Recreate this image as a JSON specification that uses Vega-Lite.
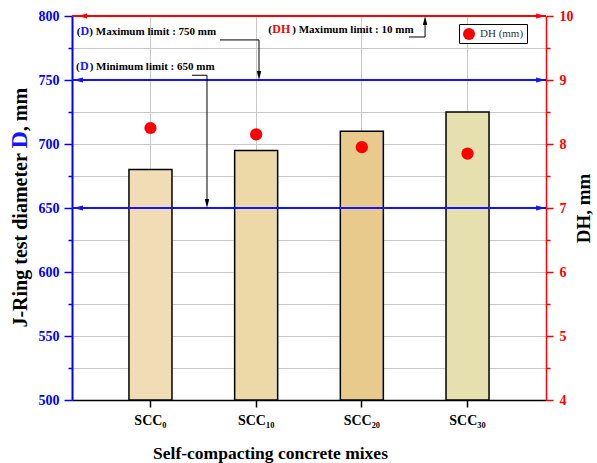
{
  "$schema": "https://vega.github.io/schema/vega-lite/v6.json",
  "width": 474,
  "height": 384,
  "autosize": {"type": "none"},
  "padding": {"left": 72, "top": 16, "right": 51, "bottom": 63},
  "background": "white",
  "config": {
    "font": "Liberation Serif",
    "view": {"stroke": null},
    "axis": {"labelFont": "Liberation Serif", "titleFont": "Liberation Serif"},
    "legend": {"labelFont": "Liberation Serif"}
  },
  "datasets": {
    "mixes": [
      {"mix": "SCC₀", "D": 680, "DH": 8.25},
      {"mix": "SCC₁₀", "D": 695, "DH": 8.15},
      {"mix": "SCC₂₀", "D": 710, "DH": 7.95},
      {"mix": "SCC₃₀", "D": 725, "DH": 7.85}
    ],
    "limitsD": [{"limit": 750}, {"limit": 650}],
    "limitDH": [{"limit": 800}],
    "leaders": [
      {"x": 1.653, "y": 781.3, "x2": 2.022, "y2": 781.3},
      {"x": 2.022, "y": 781.3, "x2": 2.022, "y2": 756},
      {"x": 1.388, "y": 753.7, "x2": 1.53, "y2": 753.7},
      {"x": 1.53, "y": 753.7, "x2": 1.53, "y2": 656},
      {"x": 3.441, "y": 783.6, "x2": 3.593, "y2": 783.6},
      {"x": 3.593, "y": 783.6, "x2": 3.593, "y2": 795}
    ],
    "arrowsDown": [{"x": 2.022, "y": 753.5}, {"x": 1.53, "y": 653.5}],
    "arrowsUp": [{"x": 3.593, "y": 796.5}],
    "labelsBlack": [
      {"x": 0.297, "y": 785.2, "t": "("},
      {"x": 0.417, "y": 785.2, "t": ") Maximum limit : 750 mm"},
      {"x": 0.291, "y": 757.8, "t": "("},
      {"x": 0.42, "y": 757.8, "t": ") Minimum limit : 650 mm"},
      {"x": 2.11, "y": 786.7, "t": "("},
      {"x": 2.337, "y": 786.7, "t": ") Maximum limit : 10 mm"}
    ],
    "labelsBlue": [
      {"x": 0.333, "y": 785.2, "t": "D"},
      {"x": 0.329, "y": 757.8, "t": "D"}
    ],
    "labelsRed": [
      {"x": 2.148, "y": 786.7, "t": "DH"}
    ],
    "titleBlack": [
      {"x": -0.173, "y": 556.6, "t": "J-Ring test diameter "},
      {"x": -0.173, "y": 710.0, "t": " , mm"}
    ],
    "titleBlue": [
      {"x": -0.173, "y": 696.5, "t": "D"}
    ]
  },
  "layer": [
    {
      "data": {"name": "mixes"},
      "mark": {"type": "point", "opacity": 0},
      "encoding": {
        "y": {
          "field": "D", "type": "quantitative",
          "scale": {"domain": [500, 800], "nice": false, "zero": false},
          "axis": {"orient": "left", "values": [525, 575, 625, 675, 725, 775], "labels": false, "title": null, "domain": false, "tickSize": 4, "tickColor": "#0000ff", "tickWidth": 1.5, "grid": true, "gridColor": "#c8c8c8", "gridWidth": 1}
        }
      }
    },
    {
      "data": {"name": "mixes"},
      "mark": {"type": "point", "opacity": 0},
      "encoding": {
        "y": {
          "field": "DH", "type": "quantitative",
          "scale": {"domain": [4, 10], "nice": false, "zero": false},
          "axis": {"orient": "right", "values": [4.5, 5.5, 6.5, 7.5, 8.5, 9.5], "labels": false, "title": null, "domain": false, "tickSize": 4, "tickColor": "#ff0000", "tickWidth": 1.5, "grid": false}
        }
      }
    },
    {
      "data": {"name": "mixes"},
      "mark": {"type": "bar", "stroke": "black", "strokeWidth": 1.5},
      "encoding": {
        "x": {
          "field": "mix", "type": "nominal", "sort": null,
          "scale": {"type": "band", "domain": ["SCC₀", "SCC₁₀", "SCC₂₀", "SCC₃₀"], "paddingInner": 0.593, "paddingOuter": 0.539},
          "axis": {"title": "Self-compacting concrete mixes", "titleX": 198, "titleAnchor": "middle", "bandPosition": 0.5, "labelAngle": 0, "grid": true, "gridColor": "#c8c8c8", "domainColor": "black", "domainWidth": 1.5, "tickColor": "black", "tickWidth": 1.5, "tickSize": 7, "labelFontSize": 14, "labelFontWeight": "bold", "labelColor": "black", "labelPadding": 6, "titleFontSize": 17.5, "titleFontWeight": "bold", "titleColor": "black", "titlePadding": 17}
        },
        "y": {
          "field": "D", "type": "quantitative",
          "scale": {"domain": [500, 800], "nice": false, "zero": false},
          "axis": {"orient": "left", "values": [500, 550, 600, 650, 700, 750, 800], "title": null, "grid": true, "gridColor": "#c8c8c8", "domainColor": "#0000ff", "domainWidth": 2, "tickColor": "#0000ff", "tickWidth": 1.5, "tickSize": 8, "labelColor": "#0000ff", "labelFontSize": 14, "labelFontWeight": "bold", "labelPadding": 5}
        },
        "y2": {"datum": 500},
        "color": {
          "field": "mix", "type": "nominal",
          "scale": {"domain": ["SCC₀", "SCC₁₀", "SCC₂₀", "SCC₃₀"], "range": ["#F0DCB5", "#EDD8A8", "#E8CB8C", "#E6E0AE"]},
          "legend": null
        }
      }
    },
    {
      "layer": [
        {
          "data": {"name": "limitsD"},
          "mark": {"type": "rule", "color": "#1414ff", "strokeWidth": 2},
          "encoding": {
            "y": {"field": "limit", "type": "quantitative", "scale": {"domain": [500, 800], "nice": false, "zero": false}, "axis": null}
          }
        },
        {
          "data": {"name": "limitDH"},
          "mark": {"type": "rule", "color": "#ff0000", "strokeWidth": 2},
          "encoding": {
            "y": {"field": "limit", "type": "quantitative", "axis": null}
          }
        },
        {
          "data": {"name": "limitsD"},
          "mark": {"type": "point", "shape": "M-1,0L1,-0.5L1,0.5Z", "size": 100, "filled": true, "opacity": 1, "color": "#1414ff"},
          "encoding": {
            "x": {"datum": 0.31, "type": "quantitative", "scale": {"domain": [0.253, 4.737], "nice": false, "zero": false}, "axis": null},
            "y": {"field": "limit", "type": "quantitative", "axis": null}
          }
        },
        {
          "data": {"name": "limitsD"},
          "mark": {"type": "point", "shape": "M1,0L-1,-0.5L-1,0.5Z", "size": 100, "filled": true, "opacity": 1, "color": "#1414ff"},
          "encoding": {
            "x": {"datum": 4.69, "type": "quantitative", "axis": null},
            "y": {"field": "limit", "type": "quantitative", "axis": null}
          }
        },
        {
          "data": {"name": "limitDH"},
          "mark": {"type": "point", "shape": "M-1,0L1,-0.5L1,0.5Z", "size": 100, "filled": true, "opacity": 1, "color": "#ff0000"},
          "encoding": {
            "x": {"datum": 0.348, "type": "quantitative", "axis": null},
            "y": {"field": "limit", "type": "quantitative", "axis": null}
          }
        },
        {
          "data": {"name": "limitDH"},
          "mark": {"type": "point", "shape": "M1,0L-1,-0.5L-1,0.5Z", "size": 100, "filled": true, "opacity": 1, "color": "#ff0000"},
          "encoding": {
            "x": {"datum": 4.69, "type": "quantitative", "axis": null},
            "y": {"field": "limit", "type": "quantitative", "axis": null}
          }
        },
        {
          "data": {"name": "leaders"},
          "mark": {"type": "rule", "color": "black", "strokeWidth": 1},
          "encoding": {
            "x": {"field": "x", "type": "quantitative", "axis": null},
            "x2": {"field": "x2"},
            "y": {"field": "y", "type": "quantitative", "axis": null},
            "y2": {"field": "y2"}
          }
        },
        {
          "data": {"name": "arrowsDown"},
          "mark": {"type": "point", "shape": "M0,1L-0.5,-1L0.5,-1Z", "size": 81, "filled": true, "opacity": 1, "color": "black"},
          "encoding": {
            "x": {"field": "x", "type": "quantitative", "axis": null},
            "y": {"field": "y", "type": "quantitative", "axis": null}
          }
        },
        {
          "data": {"name": "arrowsUp"},
          "mark": {"type": "point", "shape": "M0,-1L-0.5,1L0.5,1Z", "size": 81, "filled": true, "opacity": 1, "color": "black"},
          "encoding": {
            "x": {"field": "x", "type": "quantitative", "axis": null},
            "y": {"field": "y", "type": "quantitative", "axis": null}
          }
        },
        {
          "data": {"name": "labelsBlack"},
          "mark": {"type": "text", "align": "left", "baseline": "alphabetic", "font": "Liberation Serif", "fontSize": 11, "fontWeight": "bold", "color": "black"},
          "encoding": {
            "x": {"field": "x", "type": "quantitative", "axis": null},
            "y": {"field": "y", "type": "quantitative", "axis": null},
            "text": {"field": "t"}
          }
        },
        {
          "data": {"name": "labelsBlue"},
          "mark": {"type": "text", "align": "left", "baseline": "alphabetic", "font": "Liberation Serif", "fontSize": 12, "fontWeight": "bold", "color": "#1414ff"},
          "encoding": {
            "x": {"field": "x", "type": "quantitative", "axis": null},
            "y": {"field": "y", "type": "quantitative", "axis": null},
            "text": {"field": "t"}
          }
        },
        {
          "data": {"name": "labelsRed"},
          "mark": {"type": "text", "align": "left", "baseline": "alphabetic", "font": "Liberation Serif", "fontSize": 12, "fontWeight": "bold", "color": "#ff0000"},
          "encoding": {
            "x": {"field": "x", "type": "quantitative", "axis": null},
            "y": {"field": "y", "type": "quantitative", "axis": null},
            "text": {"field": "t"}
          }
        },
        {
          "data": {"name": "titleBlack"},
          "mark": {"type": "text", "align": "left", "baseline": "alphabetic", "angle": 270, "font": "Liberation Serif", "fontSize": 20, "fontWeight": "bold", "color": "black"},
          "encoding": {
            "x": {"field": "x", "type": "quantitative", "axis": null},
            "y": {"field": "y", "type": "quantitative", "axis": null},
            "text": {"field": "t"}
          }
        },
        {
          "data": {"name": "titleBlue"},
          "mark": {"type": "text", "align": "left", "baseline": "alphabetic", "angle": 270, "font": "Liberation Serif", "fontSize": 24, "fontWeight": "bold", "color": "#1414ff"},
          "encoding": {
            "x": {"field": "x", "type": "quantitative", "axis": null},
            "y": {"field": "y", "type": "quantitative", "axis": null},
            "text": {"field": "t"}
          }
        }
      ]
    },
    {
      "data": {"name": "mixes"},
      "mark": {"type": "point", "filled": true, "size": 150, "shape": "circle", "opacity": 1},
      "encoding": {
        "x": {
          "field": "mix", "type": "nominal", "sort": null,
          "scale": {"type": "band", "domain": ["SCC₀", "SCC₁₀", "SCC₂₀", "SCC₃₀"], "paddingInner": 0.593, "paddingOuter": 0.539},
          "axis": null
        },
        "y": {
          "field": "DH", "type": "quantitative",
          "scale": {"domain": [4, 10], "nice": false, "zero": false},
          "axis": {"orient": "right", "values": [4, 5, 6, 7, 8, 9, 10], "title": "DH, mm", "titleAngle": 270, "grid": false, "domainColor": "#ff0000", "domainWidth": 1.5, "tickColor": "#ff0000", "tickWidth": 1.5, "tickSize": 7, "labelColor": "#ff0000", "labelFontSize": 14, "labelFontWeight": "bold", "labelPadding": 6, "titleFontSize": 19, "titleFontWeight": "bold", "titleColor": "black", "titlePadding": 20}
        },
        "color": {
          "datum": "DH (mm)", "type": "nominal",
          "scale": {"range": ["#ff0000"]},
          "legend": {"title": null, "orient": "none", "legendX": 387, "legendY": 8, "strokeColor": "black", "fillColor": "white", "padding": 3, "symbolSize": 144, "symbolType": "circle", "labelFontSize": 11, "labelColor": "#333333", "labelFont": "Liberation Serif"}
        }
      }
    }
  ],
  "resolve": {"scale": {"x": "independent", "y": "independent", "color": "independent"}}
}
